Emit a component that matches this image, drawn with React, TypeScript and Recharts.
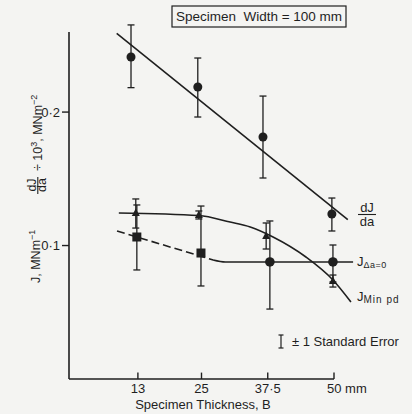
import {
  ComposedChart,
  Line,
  Scatter,
  ErrorBar,
  XAxis,
  YAxis,
  ReferenceLine,
} from "recharts";

// specimen thickness ticks (mm) and their labels
const xTicks = [13, 25, 37.5, 50];
const yTicks = [0.1, 0.2];

// dJ/da ÷ 10^3 points (circles) with [low, high] standard errors
const dJdaX = [11.7, 24.3, 36.6, 49.6];
const dJdaY = [0.2413, 0.2188, 0.1813, 0.1236];
const dJdaErr = [
  [0.023, 0.024],
  [0.0225, 0.0217],
  [0.0307, 0.0307],
  [0.0127, 0.012],
];
// fitted straight line for dJ/da
const dJdaFitX = [9.0, 52.6];
const dJdaFitY = [0.259, 0.1195];

// J Min pd points (triangles)
const jMinX = [12.6, 24.5, 37.2, 49.8];
const jMinY = [0.1244, 0.1229, 0.1071, 0.0734];
const jMinErr = [
  [0.0113, 0.0105],
  [0.003, 0.003],
  [0.0097, 0.0098],
  [0.0045, 0.0045],
];
const jMinFitX = [9.4, 24.5, 30.4, 34.2, 38.5, 44.7, 49.8, 53.2];
const jMinFitY = [0.1244, 0.1225, 0.1176, 0.1139, 0.1064, 0.0914, 0.0742, 0.0577];

// J Δa=0 points (squares / circles)
const jZeroX = [12.8, 24.9, 37.9, 49.8];
const jZeroY = [0.1064, 0.0944, 0.0877, 0.0877];
const jZeroErr = [
  [0.0247, 0.024],
  [0.0247, 0.0352],
  [0.0353, 0.0307],
  [0.015, 0.0127],
];
const jZeroDashX = [9.06, 27.2];
const jZeroDashY = [0.1109, 0.0892];
const jZeroSolidX = [27.2, 29.5, 53.6];
const jZeroSolidY = [0.0892, 0.0877, 0.0877];

const toPts = (xs: number[], ys: number[], errs?: number[][]) =>
  xs.map((x, i) => ({ x, y: ys[i], err: errs ? errs[i] : undefined, i }));

const dJdaPts = toPts(dJdaX, dJdaY, dJdaErr);
const jMinPts = toPts(jMinX, jMinY, jMinErr);
const jZeroPts = toPts(jZeroX, jZeroY, jZeroErr);

const INK = "#1f1f1f";
const FONT = "'Liberation Sans', Arial, sans-serif";

const Circle = (p: any) => <circle cx={p.cx} cy={p.cy} r={4.5} fill={INK} />;
const Triangle = (p: any) => (
  <polygon
    points={`${p.cx},${p.cy - 4.5} ${p.cx - 4},${p.cy + 3} ${p.cx + 4},${p.cy + 3}`}
    fill={INK}
  />
);
const SquareOrCircle = (p: any) =>
  p.payload && p.payload.i < 2 ? (
    <rect x={p.cx - 4.5} y={p.cy - 4.5} width={9} height={9} fill={INK} />
  ) : (
    <circle cx={p.cx} cy={p.cy} r={4.8} fill={INK} />
  );

const XTick = (p: any) => {
  const v = p.payload.value;
  if (v === 50) {
    return (
      <text x={p.x - 7} y={p.y + 14} fontSize={13} fill={INK} fontFamily={FONT}>
        50 mm
      </text>
    );
  }
  return (
    <text x={p.x} y={p.y + 14} textAnchor="middle" fontSize={13} fill={INK} fontFamily={FONT}>
      {String(v).replace(".", "·")}
    </text>
  );
};

const YTick = (p: any) => (
  <text
    x={p.x}
    y={p.y + 4.5}
    textAnchor="end"
    fontSize={13}
    fill={INK}
    fontFamily={FONT}
  >
    {p.payload.value.toFixed(1).replace(".", "·")}
  </text>
);

export default function App() {
  return (
    <div
      style={{
        position: "absolute",
        left: 0,
        top: 0,
        width: 412,
        height: 414,
        background: "#f4f4f2",
        fontFamily: FONT,
      }}
    >
      <ComposedChart
        width={412}
        height={414}
        margin={{ top: 18.65, right: 51.5, bottom: 5, left: 9 }}
      >
        <XAxis
          dataKey="x"
          type="number"
          domain={[0, 55]}
          ticks={xTicks}
          axisLine={false}
          tickLine={false}
          tickSize={0}
          tickMargin={0}
          height={30}
          tick={<XTick />}
          interval={0}
        />
        <YAxis
          dataKey="y"
          type="number"
          domain={[0, 0.27]}
          ticks={yTicks}
          axisLine={false}
          tickLine={{ stroke: INK, strokeWidth: 1.4 }}
          tickSize={7}
          tickMargin={2}
          width={60}
          tick={<YTick />}
        />
        {/* axis lines */}
        <ReferenceLine segment={[{ x: 0, y: 0 }, { x: 0, y: 0.26 }]} stroke={INK} strokeWidth={1.6} />
        <ReferenceLine segment={[{ x: 0, y: 0 }, { x: 50, y: 0 }]} stroke={INK} strokeWidth={1.6} />
        {xTicks.map((t) => (
          <ReferenceLine key={t} segment={[{ x: t, y: 0 }, { x: t, y: 0.0048 }]} stroke={INK} strokeWidth={1.4} />
        ))}

        <Line
          data={toPts(dJdaFitX, dJdaFitY)}
          dataKey="y"
          type="linear"
          stroke={INK}
          strokeWidth={1.6}
          dot={false}
          activeDot={false}
          isAnimationActive={false}
        />
        <Line
          data={toPts(jMinFitX, jMinFitY)}
          dataKey="y"
          type="monotone"
          stroke={INK}
          strokeWidth={1.6}
          dot={false}
          activeDot={false}
          isAnimationActive={false}
        />
        <Line
          data={toPts(jZeroDashX, jZeroDashY)}
          dataKey="y"
          type="linear"
          stroke={INK}
          strokeWidth={1.6}
          strokeDasharray="8 4"
          dot={false}
          activeDot={false}
          isAnimationActive={false}
        />
        <Line
          data={toPts(jZeroSolidX, jZeroSolidY)}
          dataKey="y"
          type="monotone"
          stroke={INK}
          strokeWidth={1.6}
          dot={false}
          activeDot={false}
          isAnimationActive={false}
        />

        <Scatter data={dJdaPts} dataKey="y" shape={Circle} isAnimationActive={false}>
          <ErrorBar dataKey="err" direction="y" width={3.5} stroke={INK} strokeWidth={1.3} />
        </Scatter>
        <Scatter data={jMinPts} dataKey="y" shape={Triangle} isAnimationActive={false}>
          <ErrorBar dataKey="err" direction="y" width={3.5} stroke={INK} strokeWidth={1.3} />
        </Scatter>
        <Scatter data={jZeroPts} dataKey="y" shape={SquareOrCircle} isAnimationActive={false}>
          <ErrorBar dataKey="err" direction="y" width={3.5} stroke={INK} strokeWidth={1.3} />
        </Scatter>
      </ComposedChart>

      <svg
        width={412}
        height={414}
        style={{ position: "absolute", left: 0, top: 0, pointerEvents: "none" }}
        fontFamily={FONT}
        fill={INK}
      >
        {/* title box */}
        <rect x={172} y={6} width={174} height={21} fill="none" stroke={INK} strokeWidth={1.2} />
        <text x={259} y={21} fontSize={13.5} textAnchor="middle" xmlSpace="preserve">
          Specimen  Width = 100 mm
        </text>

        {/* upper y label: dJ/da ÷ 10^3, MNm^-2 */}
        <text transform="translate(36,185) rotate(-90)" fontSize={12.5} textAnchor="middle">dJ</text>
        <line x1={37.8} y1={177} x2={37.8} y2={194} stroke={INK} strokeWidth={1.1} />
        <text transform="translate(46,185) rotate(-90)" fontSize={12.5} textAnchor="middle">da</text>
        <text transform="translate(42,171) rotate(-90)" fontSize={12.5}>
          ÷ 10<tspan dy={-5} fontSize={9}>3</tspan>
          <tspan dy={5}>, MNm</tspan>
          <tspan dy={-5} fontSize={9}>−2</tspan>
        </text>

        {/* lower y label: J, MNm^-1 */}
        <text transform="translate(40,283) rotate(-90)" fontSize={12.5}>
          J, MNm<tspan dy={-5} fontSize={9}>−1</tspan>
        </text>

        {/* series labels */}
        <text x={367} y={212} fontSize={13} textAnchor="middle">dJ</text>
        <line x1={358} y1={214.5} x2={376} y2={214.5} stroke={INK} strokeWidth={1.1} />
        <text x={367} y={226} fontSize={13} textAnchor="middle">da</text>

        <text x={357} y={266} fontSize={13}>
          J<tspan dy={2} fontSize={9} letterSpacing={0.5}>Δa=0</tspan>
        </text>
        <text x={357} y={301} fontSize={13}>
          J<tspan dy={2} fontSize={10} letterSpacing={1}>Min pd</tspan>
        </text>

        {/* error legend */}
        <line x1={281} y1={335} x2={281} y2={348} stroke={INK} strokeWidth={1.2} />
        <line x1={278.5} y1={335} x2={283.5} y2={335} stroke={INK} strokeWidth={1.2} />
        <line x1={278.5} y1={348} x2={283.5} y2={348} stroke={INK} strokeWidth={1.2} />
        <text x={292} y={346} fontSize={13}>± 1 Standard Error</text>

        {/* x axis title */}
        <text x={203} y={409} fontSize={13} textAnchor="middle">Specimen Thickness, B</text>
      </svg>
    </div>
  );
}
